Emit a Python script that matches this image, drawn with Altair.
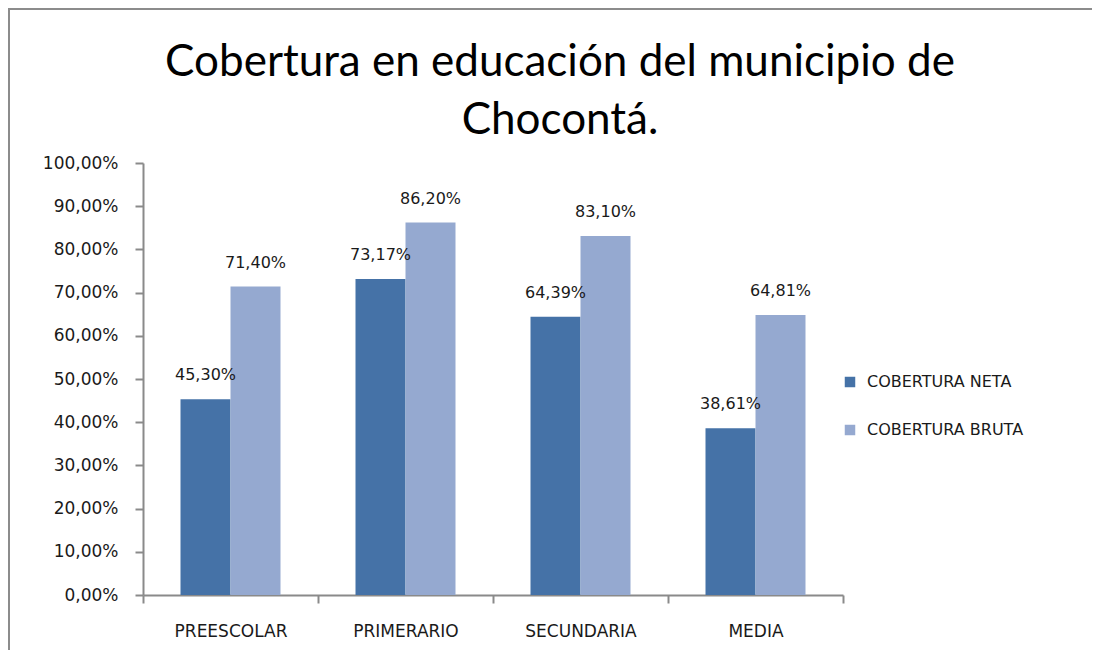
import altair as alt
import pandas as pd

categories = ["PREESCOLAR", "PRIMERARIO", "SECUNDARIA", "MEDIA"]
series_names = ["COBERTURA NETA", "COBERTURA BRUTA"]
neta = [0.4530, 0.7317, 0.6439, 0.3861]
bruta = [0.7140, 0.8620, 0.8310, 0.6481]
colors = ["#4572A7", "#95A9D0"]
y_ticks = [0.0, 0.1, 0.2, 0.3, 0.4, 0.5, 0.6, 0.7, 0.8, 0.9, 1.0]
title_lines = ["Cobertura en educación del municipio de", "Chocontá."]

rows = []
for c, n, b in zip(categories, neta, bruta):
    rows.append({"cat": c, "serie": series_names[0], "value": n})
    rows.append({"cat": c, "serie": series_names[1], "value": b})
df = pd.DataFrame(rows)

FONT = "DejaVu Sans"
AXIS_GRAY = "#8a8a8a"
TEXT = "#1a1a1a"

x_enc = alt.X(
    "cat:N", sort=categories, title=None,
    scale=alt.Scale(paddingInner=0, paddingOuter=0),
    axis=alt.Axis(labelAngle=0, labelFontSize=17, labelFont=FONT, labelColor=TEXT,
                  labelPadding=20, tickBand="extent", tickSize=8, tickColor=AXIS_GRAY,
                  tickWidth=2, domainColor=AXIS_GRAY, domainWidth=2),
)
xoff_enc = alt.XOffset("serie:N", sort=series_names,
                       scale=alt.Scale(paddingInner=0, paddingOuter=0.75))
y_enc = alt.Y(
    "value:Q", title=None, scale=alt.Scale(domain=[0, 1]),
    axis=alt.Axis(values=y_ticks, grid=False,
                  labelExpr="replace(format(datum.value, '.2%'), '.', ',')",
                  labelFontSize=17, labelFont=FONT, labelColor=TEXT, labelPadding=17,
                  tickSize=8, tickColor=AXIS_GRAY, tickWidth=2,
                  domainColor=AXIS_GRAY, domainWidth=2),
)
color_enc = alt.Color(
    "serie:N", sort=series_names,
    scale=alt.Scale(domain=series_names, range=colors),
    legend=alt.Legend(title=None, orient="none", legendX=699, legendY=211,
                      symbolType="square", symbolSize=110, symbolStrokeWidth=0,
                      labelFontSize=16, labelFont=FONT, labelColor=TEXT,
                      labelOffset=9, rowPadding=32),
)

base = alt.Chart(df)

bars = base.mark_bar().encode(x=x_enc, xOffset=xoff_enc, y=y_enc, color=color_enc)

labels = base.transform_calculate(
    label="replace(format(datum.value, '.2%'), '.', ',')"
).mark_text(dy=-24, fontSize=16, font=FONT, color=TEXT).encode(
    x=alt.X("cat:N", sort=categories), xOffset=alt.XOffset("serie:N", sort=series_names),
    y="value:Q", text="label:N",
)

title_df = pd.DataFrame({"line": title_lines, "row": [0, 1]})
title_l1 = alt.Chart(title_df).transform_filter("datum.row == 0").mark_text(
    font="Lato", fontSize=44, color="black", align="center", baseline="middle"
).encode(text="line:N", x=alt.value(417), y=alt.value(-100))
title_l2 = alt.Chart(title_df).transform_filter("datum.row == 1").mark_text(
    font="Lato", fontSize=44, color="black", align="center", baseline="middle"
).encode(text="line:N", x=alt.value(417), y=alt.value(-42))

frame_df = pd.DataFrame({"k": [0]})
frame_left = alt.Chart(frame_df).mark_rect(color="#8c8c8c").encode(
    x=alt.value(-135), x2=alt.value(-133), y=alt.value(-155), y2=alt.value(700))
frame_top = alt.Chart(frame_df).mark_rect(color="#8c8c8c").encode(
    x=alt.value(-135), x2=alt.value(1200), y=alt.value(-155), y2=alt.value(-153))

chart = alt.layer(frame_left, frame_top, title_l1, title_l2, bars, labels).properties(
    width=700, height=432,
    autosize=alt.AutoSizeParams(type="none"),
    padding={"left": 135, "top": 155, "right": 249, "bottom": 55},
).configure(background="white").configure_view(stroke=None)

chart.save("out.html", embed_options={"renderer": "svg", "actions": False})
